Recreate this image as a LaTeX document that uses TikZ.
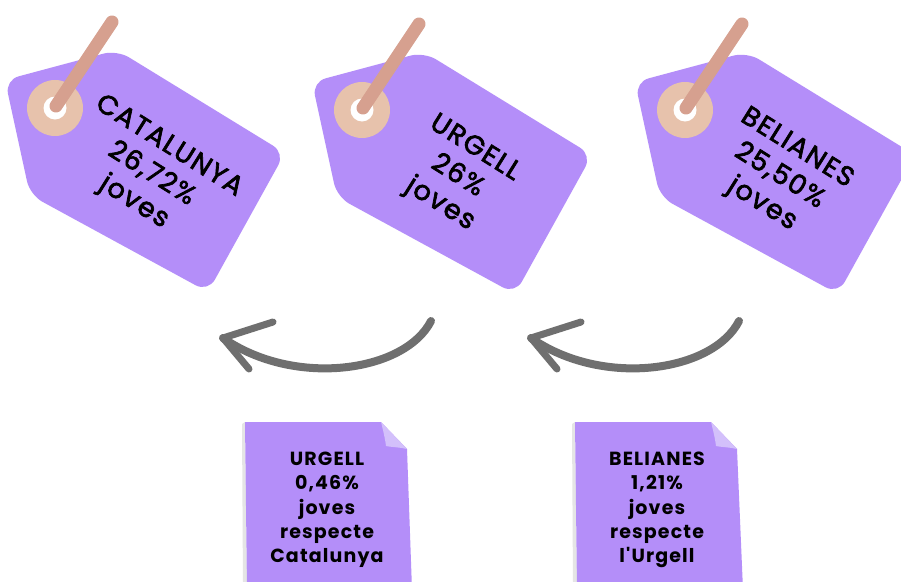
\documentclass[tikz,border=0pt]{standalone}
\usepackage{fontspec}
\setmainfont{Poppins}
\newfontfamily\tagfont{Poppins}[LetterSpace=6,FakeBold=2.5]
\newfontfamily\notefont{Poppins}[LetterSpace=6]
\definecolor{tagpurple}{HTML}{B48EF9}
\definecolor{notepurple}{HTML}{B48EF9}
\definecolor{foldcol}{HTML}{D3C0FB}
\definecolor{ringcol}{HTML}{E7C2AC}
\definecolor{strapcol}{HTML}{D6A08F}
\definecolor{arrowcol}{HTML}{6F6F6F}
\tikzset{
  pricetag/.pic={
    \fill[tagpurple, rounded corners=14pt] (62,-58) -- (230,45) -- (153,184) -- (-25,87) -- (-50,-28) -- cycle;
    \fill[ringcol] (0,0) circle[radius=28pt];
    \fill[white] (0,0) circle[radius=11.5pt];
    \draw[strapcol, line width=13pt, line cap=round] (1,-2) -- (57,-86);
  },
  tagtext/.style={rotate=-32, align=center, inner sep=0pt, text=black,
    font=\tagfont\fontsize{27}{33}\selectfont},
  notetext/.style={align=center, inner sep=0pt, text=black,
    font=\notefont\bfseries\fontsize{19}{24.3}\selectfont},
  curvearrow/.style={arrowcol, line width=8pt, line cap=round},
  barb/.style={arrowcol, line width=7pt, line cap=round, line join=round},
}
\begin{document}
\begin{tikzpicture}[x=1pt,y=-1pt]
\useasboundingbox (0,0) rectangle (901,581);
\fill[white] (0,0) rectangle (901,581);

% tags
\pic at (55,108) {pricetag};
\pic at (362,110) {pricetag};
\pic at (685,110) {pricetag};
\node[tagtext] (tcat) at (151,175) {CATALUNYA\\26,72\%\\joves};
\node[tagtext] (turg) at (457,177) {URGELL\\26\%\\joves};
\node[tagtext] (tbel) at (779,177) {BELIANES\\25,50\%\\joves};

% arrows
\coordinate (a1tail) at (431,321);
\coordinate (a1tip) at (223,338);
\coordinate (a1up) at (273,322);
\coordinate (a1dn) at (249,369);
\draw[curvearrow] (a1tail) .. controls (405,372) and (295,388) .. (a1tip);
\draw[barb] (a1up) -- (a1tip) -- (a1dn);

\coordinate (a2tail) at (739,321);
\coordinate (a2tip) at (531,338);
\coordinate (a2up) at (581,322);
\coordinate (a2dn) at (557,369);
\draw[curvearrow] (a2tail) .. controls (713,372) and (603,388) .. (a2tip);
\draw[barb] (a2up) -- (a2tip) -- (a2dn);

% notes
\fill[black!10] (242,424) -- (245,422) -- (247,590) -- (243,590) -- cycle;
\fill[notepurple] (245,422) -- (381,422) -- (407,449) -- (412,590) -- (247,590) -- cycle;
\fill[foldcol] (381,422) -- (407,449) .. controls (398,447) and (390,447) .. (386,446) .. controls (385,438) and (383,430) .. (381,422) -- cycle;
\node[notetext] (n1) at (327,510) {URGELL\\0,46\%\\joves\\respecte\\Catalunya};

\fill[black!10] (572,424) -- (575,422) -- (577,590) -- (573,590) -- cycle;
\fill[notepurple] (575,422) -- (711,422) -- (737,449) -- (743,590) -- (577,590) -- cycle;
\fill[foldcol] (711,422) -- (737,449) .. controls (728,447) and (720,447) .. (716,446) .. controls (715,438) and (713,430) .. (711,422) -- cycle;
\node[notetext] (n2) at (657,510) {BELIANES\\1,21\%\\joves\\respecte\\l'Urgell};
\end{tikzpicture}
\end{document}
